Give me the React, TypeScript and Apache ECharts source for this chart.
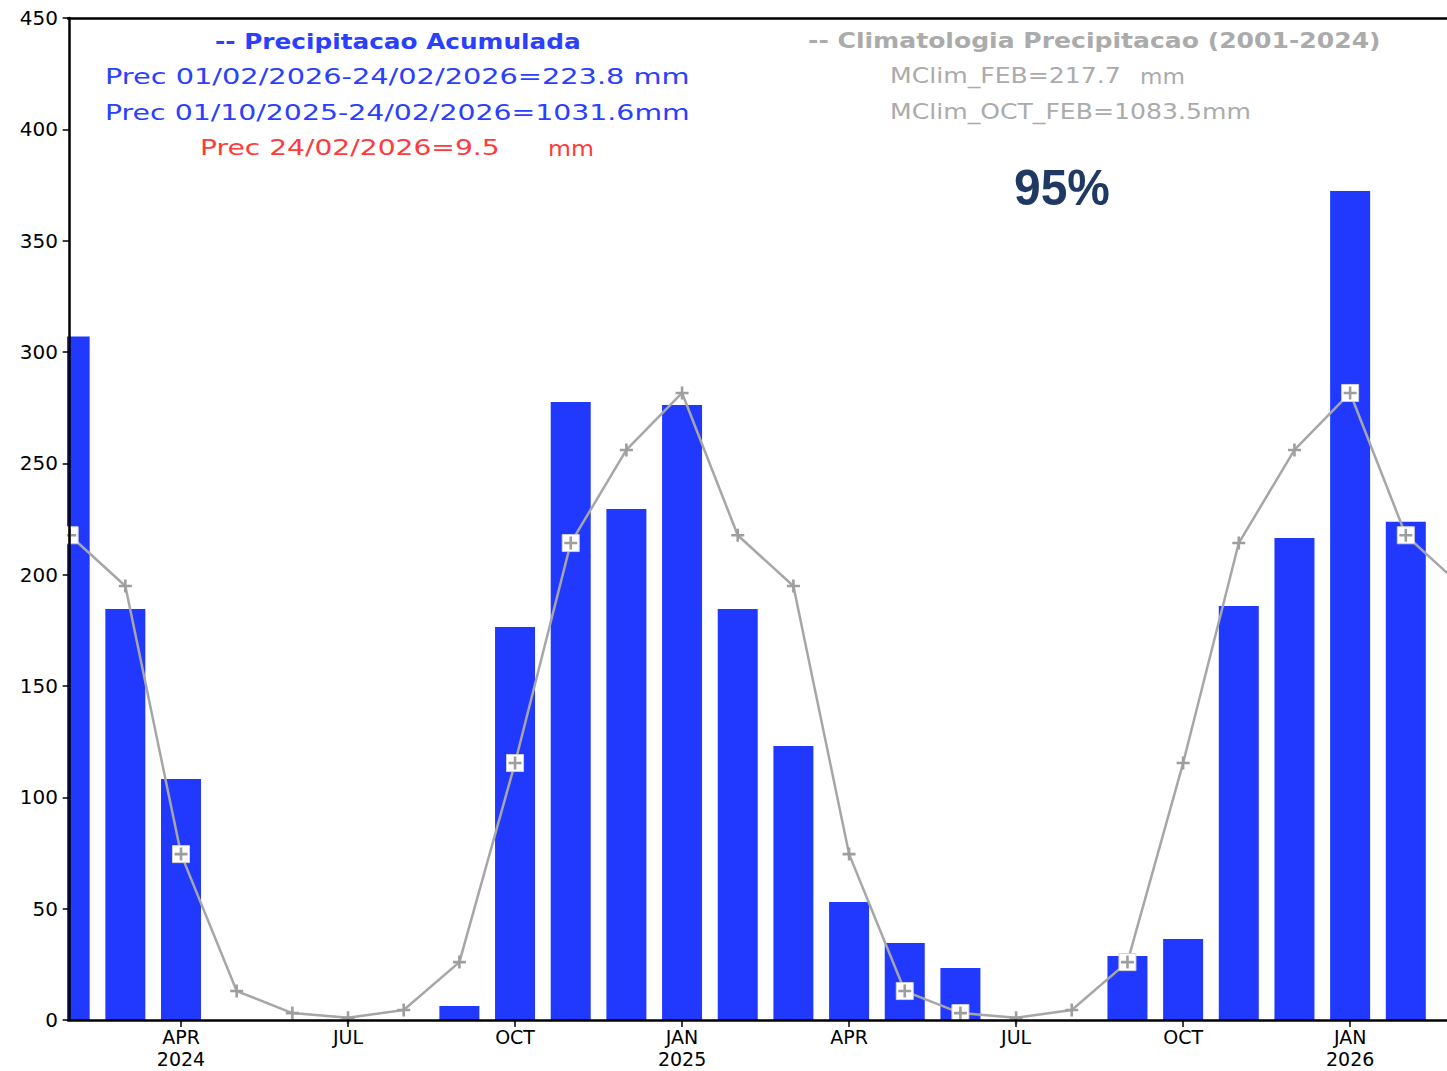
import React, { useEffect, useRef } from "react";
import * as echarts from "echarts";

// Months from FEB 2024 (index 0) to MAR 2026 (index 25)
const months = [
  "2024-02", "2024-03", "2024-04", "2024-05", "2024-06", "2024-07", "2024-08", "2024-09",
  "2024-10", "2024-11", "2024-12", "2025-01", "2025-02", "2025-03", "2025-04", "2025-05",
  "2025-06", "2025-07", "2025-08", "2025-09", "2025-10", "2025-11", "2025-12", "2026-01",
  "2026-02", "2026-03",
];

// Monthly accumulated precipitation (mm), FEB 2024 .. FEB 2026
const precipitation = [
  307, 184.6, 108.2, 0, 0, 0, 0, 6.3, 176.5, 277.5, 229.5, 276.2, 184.6, 123.1, 53, 34.6,
  23.4, 0, 0, 28.7, 36.4, 185.9, 216.5, 372.3, 223.8,
];

// Climatology (2001-2024) (mm), FEB 2024 .. MAR 2026
const climatology = [
  217.7, 194.9, 74.5, 13, 3.1, 1, 4.5, 26, 115.4, 214.2, 256, 281.6, 217.7, 194.9, 74.5, 13,
  3.1, 1, 4.5, 26, 115.4, 214.2, 256, 281.6, 217.7, 194.9,
];

const xTickIndex = [2, 5, 8, 11, 14, 17, 20, 23];
const xTickLabels = ["APR\n2024", "JUL", "OCT", "JAN\n2025", "APR", "JUL", "OCT", "JAN\n2026"];

const BLUE = "#2139ff";
const BLUE_TEXT = "#2a40ff";
const RED_TEXT = "#ff3a3a";
const GRAY = "#a6a6a6";
const GRAY_TEXT = "#ababab";

const FONT = '"DejaVu Sans"';

type TextSpec = {
  text: string;
  left: number;
  right: number;
  cy: number;
  color: string;
  size: number;
  weight: string;
  family: string;
};

const annotations: TextSpec[] = [
  { text: "-- Precipitacao Acumulada", left: 215, right: 581, cy: 41, color: BLUE_TEXT, size: 22, weight: "bold", family: FONT },
  { text: "Prec 01/02/2026-24/02/2026=223.8 mm", left: 105, right: 690, cy: 76, color: BLUE_TEXT, size: 22, weight: "normal", family: FONT },
  { text: "Prec 01/10/2025-24/02/2026=1031.6mm", left: 105, right: 690, cy: 112, color: BLUE_TEXT, size: 22, weight: "normal", family: FONT },
  { text: "Prec 24/02/2026=9.5", left: 200, right: 500, cy: 148, color: RED_TEXT, size: 22, weight: "normal", family: FONT },
  { text: "mm", left: 548, right: 594, cy: 148, color: RED_TEXT, size: 22, weight: "normal", family: FONT },
  { text: "-- Climatologia Precipitacao (2001-2024)", left: 808, right: 1381, cy: 41, color: GRAY_TEXT, size: 22, weight: "bold", family: FONT },
  { text: "MClim_FEB=217.7", left: 890, right: 1121, cy: 76, color: GRAY_TEXT, size: 22, weight: "normal", family: FONT },
  { text: "mm", left: 1140, right: 1185, cy: 76, color: GRAY_TEXT, size: 22, weight: "normal", family: FONT },
  { text: "MClim_OCT_FEB=1083.5mm", left: 890, right: 1251, cy: 112, color: GRAY_TEXT, size: 22, weight: "normal", family: FONT },
  { text: "95%", left: 1014, right: 1110, cy: 188, color: "#1f3864", size: 50, weight: "bold", family: '"Liberation Sans"' },
];

function measure(text: string, size: number, weight: string, family: string): number {
  const ctx = document.createElement("canvas").getContext("2d");
  if (!ctx) return text.length * size * 0.6;
  ctx.font = `${weight} ${size}px ${family}`;
  return ctx.measureText(text).width;
}

const GRID_LEFT = 68;

export default function App() {
  const ref = useRef<HTMLDivElement>(null);

  useEffect(() => {
    document.body.style.margin = "0";
    if (!ref.current) return;
    const chart = echarts.init(ref.current, undefined, { renderer: "svg" });

    const barData = precipitation.map((v, i) => [i, v]);
    const lineData = climatology.map((v, i) => [i, v]);
    const plusData = precipitation.map((_, i) => [i, climatology[i]]);
    const boxData = precipitation
      .map((v, i) => (v >= climatology[i] ? [i, climatology[i]] : null))
      .filter((d) => d !== null);

    const graphics: any[] = annotations.map((a) => {
      const w = measure(a.text, a.size, a.weight, a.family);
      return {
        type: "text",
        x: a.left,
        y: a.cy,
        scaleX: (a.right - a.left) / w,
        z: 100,
        style: {
          text: a.text,
          fill: a.color,
          fontSize: a.size,
          fontWeight: a.weight,
          fontFamily: a.family,
          align: "left",
          verticalAlign: "middle",
        },
      };
    });
    // white mask left of the plot area (bars on a value axis are not clipped at the edge)
    graphics.push({
      type: "rect",
      shape: { x: 0, y: 0, width: GRID_LEFT - 1, height: 1071 },
      style: { fill: "#ffffff" },
      z: 8,
      silent: true,
    });

    const xMin = -0.03;
    const xMax = 24.74;

    chart.setOption({
      animation: false,
      backgroundColor: "#ffffff",
      grid: { left: GRID_LEFT, right: 0, top: 18, bottom: 51, containLabel: false },
      xAxis: [
        {
          type: "value",
          min: xMin,
          max: xMax,
          position: "bottom",
          z: 10,
          axisLine: { show: true, lineStyle: { color: "#000", width: 2.5 } },
          axisTick: { show: true, customValues: xTickIndex, length: 7, lineStyle: { color: "#000", width: 1.5 } },
          axisLabel: {
            show: true,
            customValues: xTickIndex,
            formatter: (v: number) => {
              const k = xTickIndex.indexOf(Math.round(v));
              return k >= 0 ? xTickLabels[k] : "";
            },
            color: "#000",
            fontFamily: FONT,
            fontSize: 19,
            lineHeight: 22,
            margin: 6,
          },
          splitLine: { show: false },
        },
        {
          type: "value",
          min: xMin,
          max: xMax,
          position: "top",
          z: 10,
          axisLine: { show: true, lineStyle: { color: "#000", width: 2.5 } },
          axisTick: { show: false },
          axisLabel: { show: false },
          splitLine: { show: false },
        },
      ],
      yAxis: {
        type: "value",
        min: 0,
        max: 450,
        interval: 50,
        z: 10,
        axisLine: { show: true, lineStyle: { color: "#000", width: 2.5 } },
        axisTick: { show: true, length: 7, lineStyle: { color: "#000", width: 1.5 } },
        axisLabel: { color: "#000", fontFamily: FONT, fontSize: 20, margin: 10 },
        splitLine: { show: false },
      },
      series: [
        {
          type: "bar",
          name: "Precipitacao Acumulada",
          xAxisIndex: 0,
          data: barData,
          barWidth: 40,
          clip: true,
          itemStyle: { color: BLUE },
          z: 2,
        },
        {
          type: "line",
          name: "Climatologia",
          xAxisIndex: 0,
          data: lineData,
          showSymbol: false,
          symbol: "none",
          lineStyle: { color: GRAY, width: 2.5 },
          clip: true,
          z: 3,
        },
        {
          type: "scatter",
          xAxisIndex: 0,
          data: boxData,
          symbol: "rect",
          symbolSize: 17,
          itemStyle: { color: "#ffffff", borderColor: "#d0d0d0", borderWidth: 1, opacity: 1 },
          z: 4,
        },
        {
          type: "scatter",
          xAxisIndex: 0,
          data: plusData,
          symbol: "path://M4,0H6V4H10V6H6V10H4V6H0V4H4Z",
          symbolSize: 13,
          itemStyle: { color: "#9e9e9e", opacity: 1 },
          z: 5,
        },
      ],
      graphic: graphics,
    });

    return () => chart.dispose();
  }, []);

  return <div ref={ref} style={{ width: "1447px", height: "1071px" }} />;
}
